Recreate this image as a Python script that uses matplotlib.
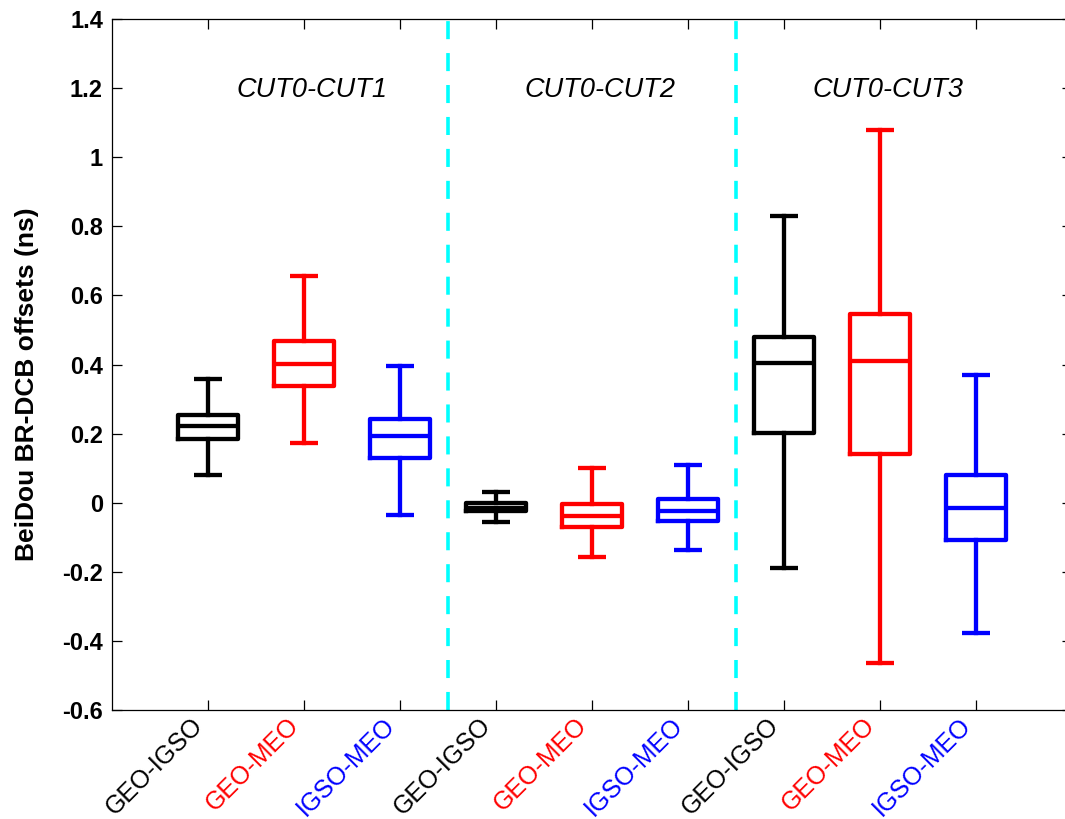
import matplotlib
matplotlib.use("Agg")
import matplotlib.pyplot as plt
from matplotlib.ticker import FixedLocator, FuncFormatter

plt.rcParams["font.family"] = ["Liberation Sans", "DejaVu Sans"]
plt.rcParams["lines.scale_dashes"] = False

# Baseline pairs and station pairs
pairs = ["GEO-IGSO", "GEO-MEO", "IGSO-MEO"]
pair_colors = ["#000000", "#FF0000", "#0000FF"]
groups = ["CUT0-CUT1", "CUT0-CUT2", "CUT0-CUT3"]

# Box statistics (ns), one list per station pair, ordered GEO-IGSO, GEO-MEO, IGSO-MEO
whislo = [0.079, 0.172, -0.036,
          -0.055, -0.157, -0.137,
          -0.190, -0.464, -0.378]
q1 = [0.183, 0.338, 0.130,
      -0.025, -0.071, -0.053,
      0.202, 0.140, -0.108]
med = [0.223, 0.401, 0.194,
       -0.014, -0.038, -0.024,
       0.404, 0.410, -0.014]
q3 = [0.253, 0.468, 0.241,
      -0.002, -0.003, 0.011,
      0.481, 0.547, 0.081]
whishi = [0.358, 0.656, 0.395,
          0.030, 0.100, 0.108,
          0.830, 1.080, 0.370]

yticks = [-0.6, -0.4, -0.2, 0, 0.2, 0.4, 0.6, 0.8, 1.0, 1.2, 1.4]

W, H = 1065, 819
fig = plt.figure(figsize=(W / 100, H / 100), dpi=100)
ax = fig.add_axes([112 / W, (H - 710) / H, 960 / W, 691 / H])

n = len(med)
positions = list(range(1, n + 1))
for i in range(n):
    col = pair_colors[i % 3]
    stats = [dict(med=med[i], q1=q1[i], q3=q3[i], whislo=whislo[i], whishi=whishi[i], fliers=[])]
    lw = 3.1
    ax.bxp(stats, positions=[positions[i]], widths=0.63, capwidths=[0.30],
           showfliers=False, manage_ticks=False,
           boxprops=dict(color=col, linewidth=lw, solid_joinstyle="round"),
           medianprops=dict(color=col, linewidth=lw, solid_capstyle="butt"),
           whiskerprops=dict(color=col, linewidth=lw),
           capprops=dict(color=col, linewidth=lw, solid_capstyle="butt"))

# Separators between receiver pairs
for k in range(1, len(groups)):
    ax.axvline(3 * k + 0.5, color="#00FFFF", linewidth=2.6, dashes=(13, 10), zorder=1)

# Group titles
for k, g in enumerate(groups):
    ax.text(3 * k + 2.08, 1.175, g, ha="center", va="baseline",
            fontsize=19.5, fontstyle="italic")

ax.set_xlim(0, 10)
ax.set_ylim(-0.6, 1.4)
ax.yaxis.set_major_locator(FixedLocator(yticks))
ax.yaxis.set_major_formatter(FuncFormatter(lambda v, p: ("%g" % round(v, 1)).replace("\u2212", "-")))
ax.set_xticks(positions)
ax.set_xticklabels([pairs[i % 3] for i in range(n)], rotation=45, ha="right", va="top",
                   fontsize=18)
for lab, i in zip(ax.get_xticklabels(), range(n)):
    lab.set_color(pair_colors[i % 3])
for lab in ax.get_yticklabels():
    lab.set_fontsize(17)
    lab.set_fontweight("bold")

ax.tick_params(direction="in", length=7.2, width=0.9, top=True, right=True)
ax.tick_params(axis="y", pad=6.5)
ax.tick_params(axis="x", pad=2)
for s in ax.spines.values():
    s.set_linewidth(0.9)

fig.text(27 / W, 1 - 384 / H, "BeiDou BR-DCB offsets (ns)", rotation=90,
         ha="center", va="center", fontsize=19, fontweight="bold")

fig.savefig("out.png", dpi=100)
